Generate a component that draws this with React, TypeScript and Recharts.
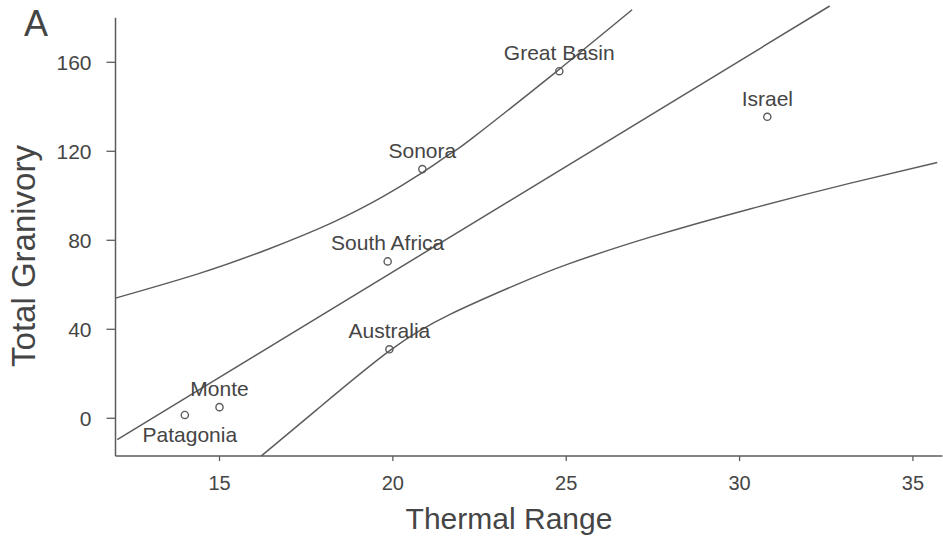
import {
  ComposedChart,
  Line,
  Scatter,
  XAxis,
  YAxis,
  ReferenceLine,
} from 'recharts';

// sites and their measured values
const sites = ['Patagonia', 'Monte', 'South Africa', 'Australia', 'Sonora', 'Great Basin', 'Israel'];
const thermal = [14.0, 15.0, 19.85, 19.9, 20.85, 24.8, 30.8];
const granivory = [1.5, 5, 70.5, 31, 112, 156, 135.5];

// fitted regression line
const regX = [12.05, 32.6];
const regY = [-9.6, 185.3];

// upper confidence band
const upperX = [12.0, 14.4, 16.4, 18.3, 19.7, 20.7, 21.65, 22.3, 24.7, 26.9];
const upperY = [54, 65, 76, 88.3, 99.5, 108.9, 118.8, 126.0, 155.6, 183.6];

// lower confidence band
const lowerX = [16.2, 17.8, 19.9, 21.65, 23.6, 25.05, 27.4, 30.3, 33.2, 35.7];
const lowerY = [-17, 3.8, 30.3, 46.7, 60.3, 69.3, 81.3, 94.1, 105.7, 115.0];

const xTicks = [15, 20, 25, 30, 35];
const yTicks = [0, 40, 80, 120, 160];

const points = sites.map((site, i) => ({ site, x: thermal[i], y: granivory[i] }));
const regression = regX.map((x, i) => ({ x, y: regY[i] }));
const upper = upperX.map((x, i) => ({ x, y: upperY[i] }));
const lower = lowerX.map((x, i) => ({ x, y: lowerY[i] }));

const FONT = '"Liberation Sans", Arial, Helvetica, sans-serif';
const INK = '#454545';
const LINE = '#5c5c5c';

const SiteMarker = (props: any) => {
  const { cx, cy, payload } = props;
  if (cx == null || cy == null) return null;
  const below = payload.site === 'Patagonia';
  return (
    <g>
      <circle cx={cx} cy={cy} r={3.6} fill="none" stroke={LINE} strokeWidth={1.4} />
      <text
        x={below ? cx + 5 : cx}
        y={below ? cy + 27 : cy - 11}
        textAnchor="middle"
        fontFamily={FONT}
        fontSize={21}
        fill={INK}
      >
        {payload.site}
      </text>
    </g>
  );
};

export default function App() {
  return (
    <div style={{ position: 'absolute', left: 0, top: 0, width: 943, height: 539, background: '#fff', overflow: 'hidden' }}>
      <ComposedChart
        width={943}
        height={539}
        margin={{ top: 4.45, right: 0.6, bottom: 22.9, left: 0 }}
      >
        <XAxis
          type="number"
          dataKey="x"
          domain={[12, 35.85]}
          ticks={xTicks}
          interval={0}
          height={60}
          tickSize={5}
          tickMargin={15}
          axisLine={{ stroke: LINE, strokeWidth: 1.5 }}
          tickLine={{ stroke: LINE, strokeWidth: 1.3 }}
          tick={{ fill: INK, fontSize: 20, fontFamily: FONT }}
          label={{
            content: () => (
              <text x={509} y={529} textAnchor="middle" fontFamily={FONT} fontSize={30} fill={INK}>
                Thermal Range
              </text>
            ),
          }}
        />
        <YAxis
          type="number"
          domain={[-17, 186]}
          ticks={yTicks}
          interval={0}
          width={115.5}
          tickSize={9}
          tickMargin={15}
          axisLine={false}
          tickLine={{ stroke: LINE, strokeWidth: 1.3 }}
          tick={{ fill: INK, fontSize: 21, fontFamily: FONT }}
          label={{
            content: () => (
              <g>
                <text x={24} y={36} fontFamily={FONT} fontSize={36} fill={INK}>
                  A
                </text>
                <text
                  transform="translate(35,256) rotate(-90)"
                  textAnchor="middle"
                  fontFamily={FONT}
                  fontSize={33}
                  fill={INK}
                >
                  Total Granivory
                </text>
              </g>
            ),
          }}
        />
        <ReferenceLine
          segment={[{ x: 12, y: -17 }, { x: 12, y: 180 }]}
          stroke={LINE}
          strokeWidth={1.5}
          ifOverflow="visible"
        />
        <Line
          data={upper}
          dataKey="y"
          type="natural"
          stroke={LINE}
          strokeWidth={1.5}
          dot={false}
          activeDot={false}
          isAnimationActive={false}
        />
        <Line
          data={regression}
          dataKey="y"
          type="linear"
          stroke={LINE}
          strokeWidth={1.5}
          dot={false}
          activeDot={false}
          isAnimationActive={false}
        />
        <Line
          data={lower}
          dataKey="y"
          type="natural"
          stroke={LINE}
          strokeWidth={1.5}
          dot={false}
          activeDot={false}
          isAnimationActive={false}
        />
        <Scatter data={points} dataKey="y" shape={SiteMarker} isAnimationActive={false} />
      </ComposedChart>
    </div>
  );
}
